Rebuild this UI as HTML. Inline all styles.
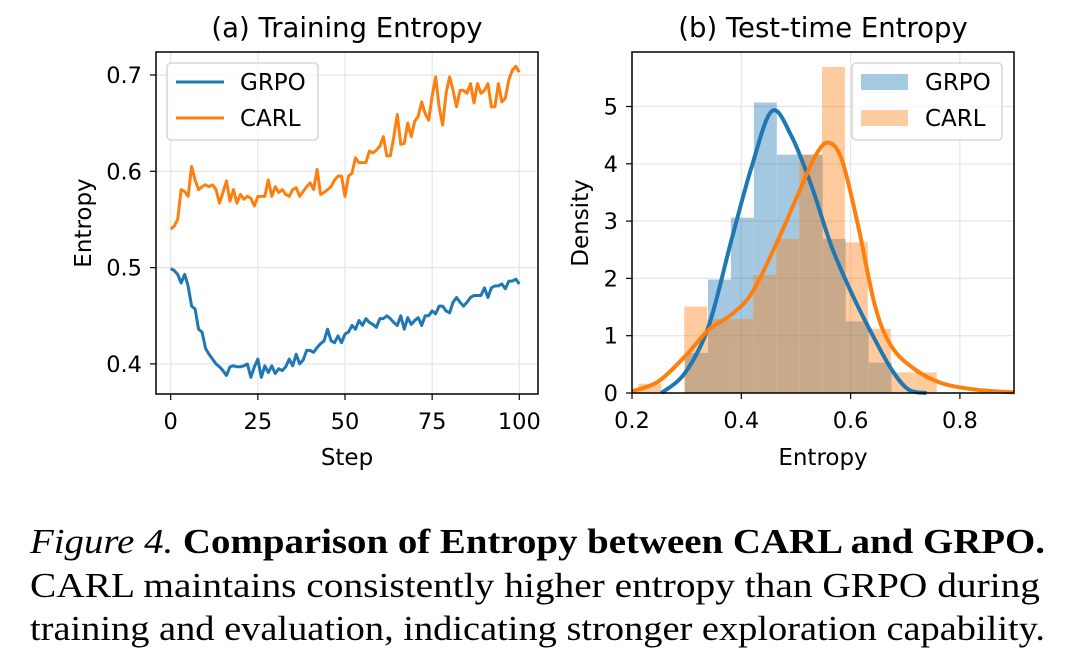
<!DOCTYPE html>
<html><head><meta charset="utf-8"><style>
html,body{margin:0;padding:0;background:#fff;width:1080px;height:664px;overflow:hidden}
svg text{font-family:"DejaVu Sans","Liberation Sans",sans-serif}
svg text.cap{font-family:"Liberation Serif",serif;font-size:35px}
</style></head><body>
<svg id="fig" width="1080" height="664" xmlns="http://www.w3.org/2000/svg" style="position:absolute;left:0;top:0">
<g>
<text class="cap" x="30" y="553" textLength="1015" lengthAdjust="spacingAndGlyphs"><tspan font-style="italic">Figure 4.</tspan> <tspan font-weight="bold">Comparison of Entropy between CARL and GRPO.</tspan></text>
<text class="cap" x="30" y="597" textLength="1010" lengthAdjust="spacingAndGlyphs">CARL maintains consistently higher entropy than GRPO during</text>
<text class="cap" x="30" y="640" textLength="1015" lengthAdjust="spacingAndGlyphs">training and evaluation, indicating stronger exploration capability.</text>
</g>
</svg>
<script>
const steps=[];for(let i=0;i<=100;i++)steps.push(i);
const carlTrain=[0.540,0.543,0.550,0.581,0.579,0.574,0.605,0.591,0.581,0.584,0.586,0.584,0.586,0.581,0.567,0.578,0.590,0.569,0.581,0.567,0.576,0.571,0.574,0.572,0.564,0.574,0.574,0.574,0.591,0.574,0.584,0.578,0.581,0.576,0.574,0.581,0.583,0.574,0.579,0.584,0.588,0.581,0.602,0.576,0.578,0.581,0.584,0.591,0.595,0.595,0.574,0.595,0.598,0.614,0.609,0.609,0.609,0.621,0.619,0.622,0.626,0.636,0.616,0.616,0.636,0.659,0.628,0.629,0.650,0.636,0.652,0.657,0.672,0.660,0.653,0.678,0.698,0.667,0.648,0.681,0.698,0.684,0.667,0.684,0.684,0.681,0.691,0.671,0.691,0.681,0.684,0.691,0.667,0.667,0.691,0.672,0.676,0.695,0.705,0.709,0.703];
const grpoTrain=[0.499,0.497,0.493,0.484,0.493,0.481,0.460,0.457,0.436,0.433,0.416,0.410,0.405,0.400,0.397,0.393,0.388,0.397,0.398,0.397,0.397,0.398,0.400,0.386,0.397,0.405,0.386,0.398,0.391,0.398,0.390,0.395,0.393,0.397,0.405,0.398,0.410,0.400,0.404,0.414,0.414,0.412,0.417,0.421,0.424,0.436,0.424,0.422,0.429,0.422,0.431,0.433,0.440,0.436,0.445,0.440,0.447,0.443,0.441,0.438,0.447,0.447,0.450,0.447,0.443,0.440,0.450,0.436,0.448,0.441,0.445,0.448,0.440,0.450,0.450,0.455,0.452,0.460,0.460,0.455,0.453,0.464,0.469,0.464,0.460,0.464,0.469,0.471,0.471,0.471,0.479,0.469,0.479,0.481,0.481,0.483,0.478,0.486,0.486,0.488,0.483];
const grpoBinStart=0.297, binWidth=0.042;
const grpoHist=[0.70,1.98,3.06,5.07,4.16,4.16,2.69,1.25,0.53];
const carlBinStart=0.2116;
const carlHist=[0.16,0,1.51,1.29,1.29,2.06,2.69,4.16,5.69,2.63,1.12,0.36,0.36];
const grpoKdeX=[0.254,0.297,0.340,0.382,0.419,0.456,0.492,0.529,0.565,0.602,0.638,0.675,0.706,0.739];
const grpoKdeY=[0,0.35,1.16,2.67,3.95,4.92,4.48,3.60,2.56,1.74,1.05,0.41,0.06,0];
const carlKdeX=[0.2005,0.248,0.297,0.340,0.382,0.419,0.462,0.505,0.535,0.559,0.584,0.614,0.645,0.675,0.718,0.767,0.828,0.9];
const carlKdeY=[0.03,0.2,0.64,1.1,1.37,1.74,2.56,3.49,4.13,4.37,4.07,2.91,1.51,0.81,0.41,0.17,0.06,0.01];
const leftXTicks=[0,25,50,75,100], leftYTicks=[0.4,0.5,0.6,0.7];
const rightXTicks=[0.2,0.4,0.6,0.8], rightYTicks=[0,1,2,3,4,5];

const NS="http://www.w3.org/2000/svg", svg=document.getElementById('fig');
function mk(t,a,p){const e=document.createElementNS(NS,t);for(const k in a)e.setAttribute(k,a[k]);(p||svg).appendChild(e);return e;}
const BLUE='#1f77b4',ORANGE='#ff7f0e';
const L={x0:156,x1:538,y0:52,y1:394};
const lx=v=>170.7+(v-0)*(519.3-170.7)/100, ly=v=>75+(0.7-v)*963;
const R={x0:632,x1:1014,y0:52,y1:393};
const rx=v=>632+(v-0.2)*546.5, ry=v=>393-v*57.3;
const TF=22.5;
function axes(A,xt,yt,fx,fy,fmtX,fmtY,name){
  const g=mk('g',{});
  xt.forEach(t=>{const x=fx(t);const l=mk('line',{x1:x,x2:x,y1:A.y0,y2:A.y1,stroke:'#e5e5e5','stroke-width':1.2},g);
    mk('line',{x1:x,x2:x,y1:A.y1,y2:A.y1+6,stroke:'#000','stroke-width':1.2},g);
    const tx=mk('text',{x:x,y:A.y1+35,'text-anchor':'middle','font-size':TF,fill:'#000'},g);tx.textContent=fmtX(t);});
  yt.forEach(t=>{const y=fy(t);const l=mk('line',{x1:A.x0,x2:A.x1,y1:y,y2:y,stroke:'#e5e5e5','stroke-width':1.2},g);
    mk('line',{x1:A.x0-6,x2:A.x0,y1:y,y2:y,stroke:'#000','stroke-width':1.2},g);
    const tx=mk('text',{x:A.x0-14,y:y+8,'text-anchor':'end','font-size':TF,fill:'#000'},g);tx.textContent=fmtY(t);});
  return g;
}
axes(L,leftXTicks,leftYTicks,lx,ly,t=>String(t),t=>t.toFixed(1),'training-axes');
axes(R,rightXTicks,rightYTicks,rx,ry,t=>t.toFixed(1),t=>String(t),'test-axes');
function hist(start,vals,col,name){const g=mk('g',{opacity:0.4});
  vals.forEach((v,i)=>{if(v<=0)return;const a=rx(start+i*binWidth),b=rx(start+(i+1)*binWidth);const r=mk('rect',{x:a,y:ry(v),width:b-a,height:ry(0)-ry(v),fill:col},g);});}
hist(grpoBinStart,grpoHist,BLUE,'grpo-histogram');
hist(carlBinStart,carlHist,ORANGE,'carl-histogram');
function smooth(pts){let d='M'+pts[0][0]+','+pts[0][1];for(let i=0;i<pts.length-1;i++){const p0=pts[Math.max(i-1,0)],p1=pts[i],p2=pts[i+1],p3=pts[Math.min(i+2,pts.length-1)];
 d+=` C${p1[0]+(p2[0]-p0[0])/6},${p1[1]+(p2[1]-p0[1])/6} ${p2[0]-(p3[0]-p1[0])/6},${p2[1]-(p3[1]-p1[1])/6} ${p2[0]},${p2[1]}`;}return d;}
const kg=mk('path',{d:smooth(grpoKdeX.map((x,i)=>[rx(x),ry(grpoKdeY[i])])),fill:'none',stroke:BLUE,'stroke-width':4});

const kc=mk('path',{d:smooth(carlKdeX.map((x,i)=>[rx(x),ry(carlKdeY[i])])),fill:'none',stroke:ORANGE,'stroke-width':4});

const lc=mk('polyline',{points:steps.map((s,i)=>lx(s)+','+ly(carlTrain[i])).join(' '),fill:'none',stroke:ORANGE,'stroke-width':3,'stroke-linejoin':'round'});

const lg=mk('polyline',{points:steps.map((s,i)=>lx(s)+','+ly(grpoTrain[i])).join(' '),fill:'none',stroke:BLUE,'stroke-width':3,'stroke-linejoin':'round'});

[L,R].forEach(A=>{const f=mk('rect',{x:A.x0,y:A.y0,width:A.x1-A.x0,height:A.y1-A.y0,fill:'none',stroke:'#000','stroke-width':1.5});});
function txt(x,y,s,size,name,extra){const t=mk('text',Object.assign({x:x,y:y,'text-anchor':'middle','font-size':size,fill:'#000'},extra||{}));t.textContent=s;return t;}
txt(347,37,'(a) Training Entropy',27.5,'training-title');
txt(823,37,'(b) Test-time Entropy',27.5,'test-title');
txt(347,465,'Step',23,'x-axis-title-training');
txt(823,465,'Entropy',23,'x-axis-title-test');
txt(91,223,'Entropy',23,'y-axis-title-training',{transform:'rotate(-90 91 223)'});
txt(588,223,'Density',23,'y-axis-title-test',{transform:'rotate(-90 588 223)'});
function legend(x,y,w,patch,name){const g=mk('g',{});
 mk('rect',{x:x,y:y,width:w,height:77,rx:4,fill:'#fff','fill-opacity':0.8,stroke:'#d0d0d0','stroke-width':1.3},g);
 [['GRPO',BLUE],['CARL',ORANGE]].forEach((e,i)=>{const cy=y+19+i*36;
  if(patch){const r=mk('rect',{x:x+9,y:cy-8,width:47,height:16,fill:e[1],opacity:0.4},g);}
  else{const l=mk('line',{x1:x+9,x2:x+57,y1:cy,y2:cy,stroke:e[1],'stroke-width':3},g);}
  const t=mk('text',{x:x+73,y:cy+8,'font-size':23,fill:'#000'},g);t.textContent=e[0];});}
legend(167,63,151,false,'training-legend');
legend(852,63,150,true,'test-legend');
</script>
</body></html>
